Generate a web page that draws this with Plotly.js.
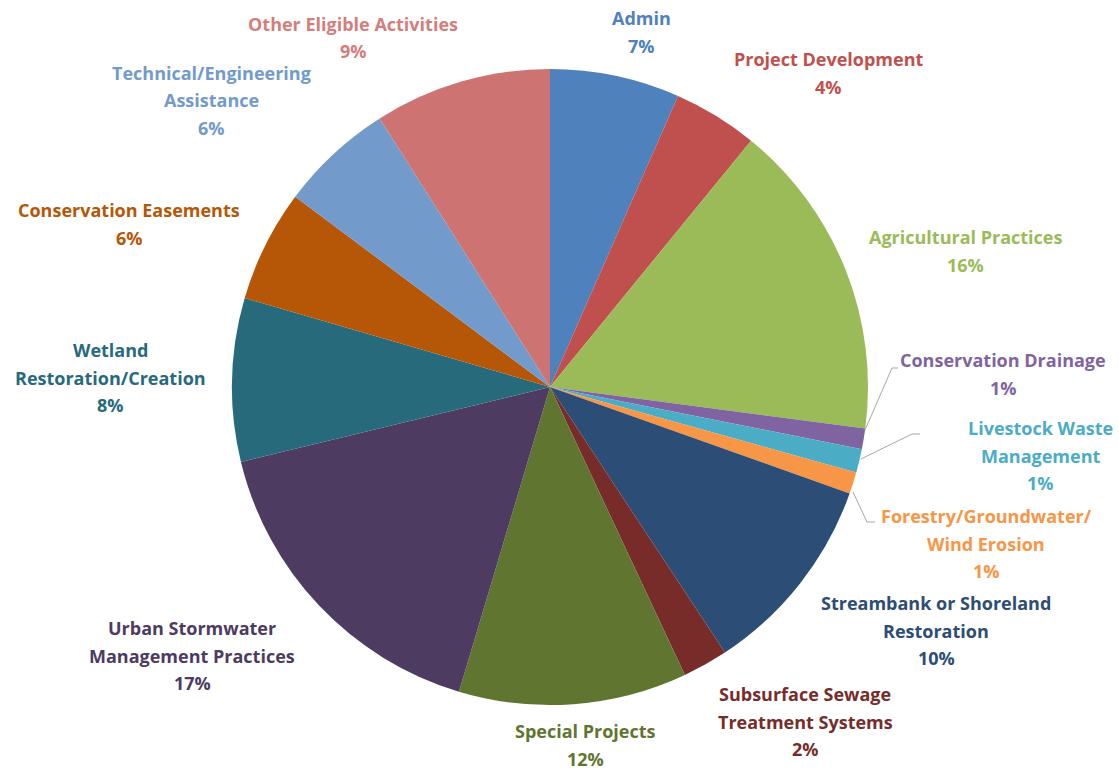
<!DOCTYPE html>
<html>
<head>
<meta charset="utf-8">
<script src="https://cdn.plot.ly/plotly-3.0.1.min.js"></script>
<style>html,body{margin:0;padding:0;background:#fff;}#chart{width:1119px;height:771px;}</style>
</head>
<body>
<div id="chart"></div>
<script>
// ---- data ----
const categories = [
  "Admin", "Project Development", "Agricultural Practices", "Conservation Drainage",
  "Livestock Waste<br>Management", "Forestry/Groundwater/<br>Wind Erosion",
  "Streambank or Shoreland<br>Restoration", "Subsurface Sewage<br>Treatment Systems",
  "Special Projects", "Urban Stormwater<br>Management Practices",
  "Wetland<br>Restoration/Creation", "Conservation Easements",
  "Technical/Engineering<br>Assistance", "Other Eligible Activities"
];
const values = [6.6, 4.3, 16.2, 1.05, 1.2, 1.1, 10.3, 2.3, 11.6, 16.6, 8.3, 5.7, 5.8, 9.0];
const colors = ["#4F81BD", "#C0504D", "#9BBB59", "#8064A2", "#4BACC6", "#F79646", "#2C4D75",
  "#772C2A", "#5F7530", "#4D3B62", "#276A7C", "#B65708", "#729ACA", "#CD7371"];
const textColors = ["#4F81BD", "#C0504D", "#9BBB59", "#8064A2", "#4BACC6", "#F79646", "#2C4D75",
  "#772C2A", "#5F7530", "#4D3B62", "#276A7C", "#B65708", "#729ACA", "#D57D7B"];

// ---- label layout (pixel: centre x, first line y) ----
const labelPos = [
  [641, 18], [828, 59], [965, 237], [1003, 360], [1040, 428], [986, 516], [936, 603],
  [805, 694], [585, 731], [192, 628], [110, 350], [129, 210], [211, 73], [353, 24]
];
const leaderLines = [
  [[865, 430], [892, 368], [898, 368]],
  [[861, 459], [912, 434], [920, 434]],
  [[853, 492], [867, 522], [875, 522]]
];

const W = 1119, H = 771, cx = 550, cy = 387, R = 318, lineGap = 27.5;
const px = x => x / W, py = y => 1 - y / H;

const total = values.reduce((a, b) => a + b, 0);
const annotations = [];
categories.forEach((c, i) => {
  const lines = c.split("<br>").concat([Math.round(values[i] / total * 100) + "%"]);
  lines.forEach((t, k) => {
    annotations.push({
      xref: "paper", yref: "paper", x: px(labelPos[i][0]), y: py(labelPos[i][1] + k * lineGap),
      xanchor: "center", yanchor: "middle", showarrow: false, text: t, borderpad: 0,
      font: {family: "'Open Sans', 'Noto Sans', sans-serif", size: 18, color: textColors[i], weight: "bold"}
    });
  });
});
const shapes = leaderLines.map(pts => ({
  type: "path", xref: "paper", yref: "paper",
  path: "M " + pts.map(p => px(p[0]) + "," + py(p[1])).join(" L "),
  line: {color: "#A6A6A6", width: 1}
}));

const trace = {
  type: "pie", labels: categories, values: values, sort: false, direction: "clockwise",
  rotation: 0, textinfo: "none", hoverinfo: "label+percent",
  marker: {colors: colors, line: {width: 0}},
  domain: {x: [px(cx - R), px(cx + R)], y: [py(cy + R), py(cy - R)]},
  showlegend: false
};

Plotly.newPlot("chart", [trace], {
  width: W, height: H, margin: {l: 0, r: 0, t: 0, b: 0},
  paper_bgcolor: "#fff", showlegend: false, annotations: annotations, shapes: shapes
}, {displayModeBar: false});
</script>
</body>
</html>
